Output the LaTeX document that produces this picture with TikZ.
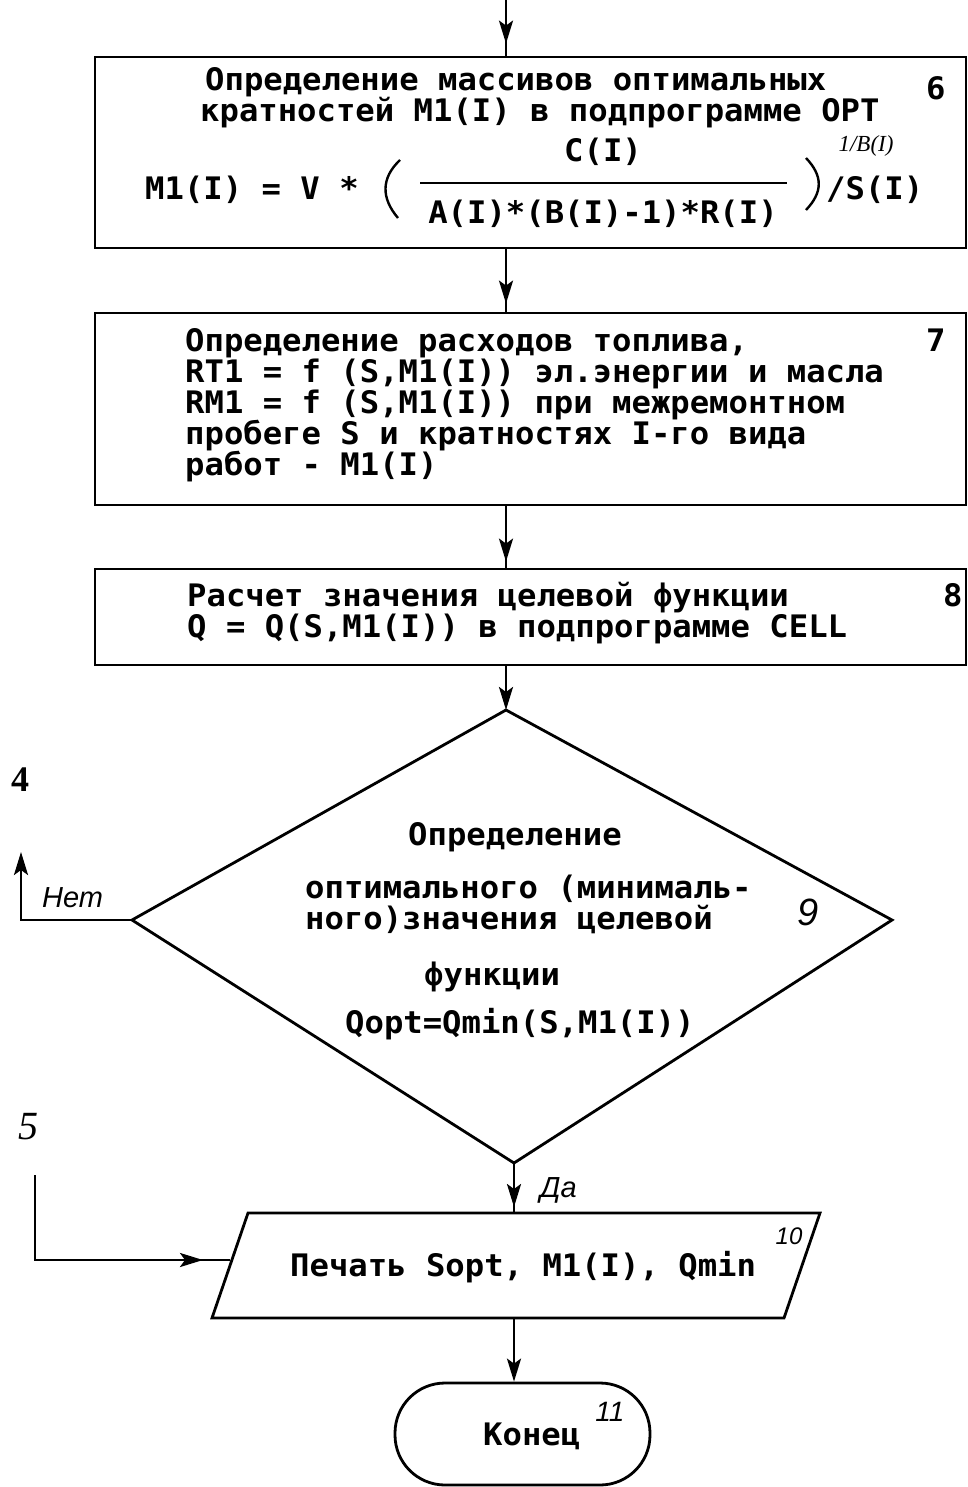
\documentclass[tikz,border=0pt]{standalone}
\usepackage{fontspec}
\usetikzlibrary{arrows.meta,decorations.markings,calc}
\newfontfamily\monob{DejaVu Sans Mono Bold}[FakeStretch=1.04]
\newfontfamily\handf{Liberation Sans}
\newfontfamily\seriff{Liberation Serif}
\tikzset{
  box/.style={draw, line width=2.8pt, rectangle, inner sep=0pt},
  shp/.style={draw, line width=2.8pt, line join=miter},
  txt/.style={font=\monob\fontsize{31}{30}\selectfont, anchor=base west, inner sep=0pt},
  hand/.style={font=\handf\itshape\fontsize{#1}{#1}\selectfont, inner sep=0pt},
  conn/.style={line width=2.6pt},
  arr/.style={-{Stealth[length=23pt,width=14pt,inset=5pt]}},
  tipat/.style={postaction={decorate}, decoration={markings, mark=at position #1 with {\arrow{Stealth[length=23pt,width=14pt,inset=5pt]}}}},
}
\begin{document}
\begin{tikzpicture}[x=1pt,y=-1pt]
\useasboundingbox (0,0) rectangle (968,1487);
\fill[white] (0,0) rectangle (968,1487);

% ---------- block 6 ----------
\node[box, minimum width=871pt, minimum height=191pt] (b6) at (530.5,152.5) {};
\node[txt] (b6l1) at (205,91) {Определение массивов оптимальных};
\node[txt] (b6l2) at (200,122) {кратностей M1(I) в подпрограмме OPT};
\node[txt] (b6n) at (926,100) {6};
\node[txt] (f1) at (145,200) {M1(I) = V *};
\node[txt, anchor=base] (fnum) at (603,162) {C(I)};
\node[txt, anchor=base] (fden) at (603,224) {A(I)*(B(I)-1)*R(I)};
\node[txt] (fS) at (826,200) {/S(I)};
\node[font=\seriff\itshape\fontsize{23}{23}\selectfont, inner sep=0pt] (fexp) at (866,146) {1/B(I)};
\draw[line width=2.6pt] (420,183) -- (787,183);
\draw[line width=2.4pt] (400,160) .. controls (381,178) and (381,198) .. (398,218);
\draw[line width=2.4pt] (806,158) .. controls (823,176) and (823,192) .. (806,210);

% ---------- block 7 ----------
\node[box, minimum width=871pt, minimum height=192pt] (b7) at (530.5,409) {};
\node[txt] (b7l1) at (185,351) {Определение расходов топлива,};
\node[txt] (b7l2) at (185,382) {RT1 = f (S,M1(I)) эл.энергии и масла};
\node[txt] (b7l3) at (185,413) {RM1 = f (S,M1(I)) при межремонтном};
\node[txt] (b7l4) at (185,444) {пробеге S и кратностях I-го вида};
\node[txt] (b7l5) at (185,475) {работ - M1(I)};
\node[txt] (b7n) at (926,351) {7};

% ---------- block 8 ----------
\node[box, minimum width=871pt, minimum height=96pt] (b8) at (530.5,617) {};
\node[txt] (b8l1) at (187,606) {Расчет значения целевой функции};
\node[txt] (b8l2) at (187,637) {Q = Q(S,M1(I)) в подпрограмме CELL};
\node[txt] (b8n) at (943,606) {8};

% ---------- decision 9 ----------
\coordinate (dT) at (506,710);
\coordinate (dR) at (892,920);
\coordinate (dB) at (514,1163);
\coordinate (dL) at (132,920);
\draw[shp] (dT) -- (dR) -- (dB) -- (dL) -- cycle;
\node[txt] (d1) at (408,845) {Определение};
\node[txt] (d2) at (305,898) {оптимального (минималь-};
\node[txt] (d3) at (305,929) {ного)значения целевой};
\node[txt] (d4) at (424,985) {функции};
\node[txt] (d5) at (345,1033) {Qopt=Qmin(S,M1(I))};
\node[hand=38] (d9) at (808,912) {9};

% ---------- output 10 ----------
\coordinate (p1) at (248,1213);
\coordinate (p2) at (820,1213);
\coordinate (p3) at (784,1318);
\coordinate (p4) at (212,1318);
\coordinate (pT) at (514,1213);
\coordinate (pB) at (514,1318);
\coordinate (pL) at (230,1260);
\draw[shp] (p1) -- (p2) -- (p3) -- (p4) -- cycle;
\node[txt] (pt) at (290,1276) {Печать Sopt, M1(I), Qmin};
\node[hand=24] (p10) at (789,1236) {10};

% ---------- terminal 11 ----------
\node[box, rounded corners=50pt, minimum width=255pt, minimum height=102pt] (t11) at (522.5,1434) {};
\node[txt] (tt) at (483,1445) {Конец};
\node[hand=28] (t11n) at (610,1412) {11};

% ---------- side labels ----------
\node[font=\seriff\bfseries\fontsize{36}{36}\selectfont, inner sep=0pt] (l4) at (20,780) {4};
\node[font=\seriff\itshape\fontsize{40}{40}\selectfont, inner sep=0pt] (l5) at (28,1127) {5};
\node[hand=29, anchor=base west] (lno) at (42,907) {Нет};
\node[hand=29, anchor=base west] (lyes) at (540,1197) {Да};

% ---------- connectors ----------
\coordinate (in) at (506,0);
\draw[conn, tipat=-12pt] (in) -- (in |- b6.north);
\draw[conn, tipat=-8pt] (in |- b6.south) -- (in |- b7.north);
\draw[conn, tipat=-6pt] (in |- b7.south) -- (in |- b8.north);
\draw[conn, arr] (in |- b8.south) -- (dT);
\draw[conn, tipat=-6pt] (dB) -- (pT);
\draw[conn, arr] (pB) -- (pB |- t11.north);
\coordinate (n4) at (21,852);
\draw[conn, arr] (dL) -| (n4);
\coordinate (c5) at (35,1175);
\draw[conn, tipat=-27pt] (c5) |- (pL);
\end{tikzpicture}
\end{document}
